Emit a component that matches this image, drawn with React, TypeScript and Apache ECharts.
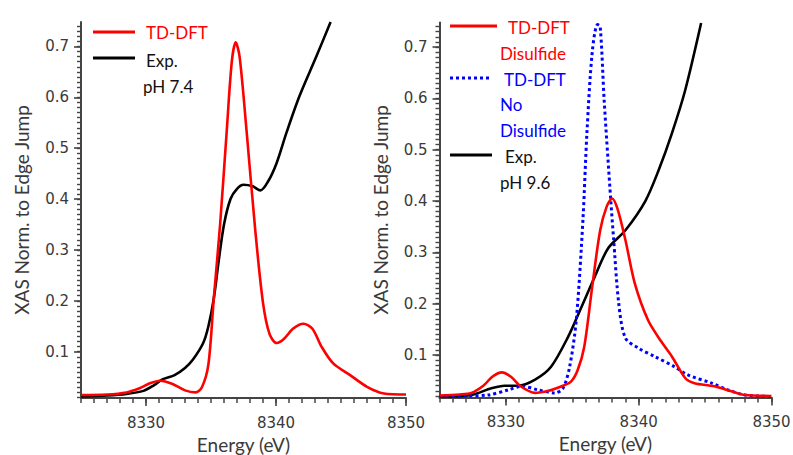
import React, { useEffect, useRef } from "react";
import * as echarts from "echarts";

const xMin = 8325;
const xMax = 8350;
const xTickLabels = [8330, 8340, 8350];
const yTickLabels = [0.1, 0.2, 0.3, 0.4, 0.5, 0.6, 0.7];
const leftYRange = [0.009, 0.748];
const rightYRange = [0.017, 0.748];

const leftTDDFT: number[][] = [
  [8325, 0.015], [8327, 0.016], [8328.5, 0.02], [8329.5, 0.028], [8330.3, 0.038], [8331.1, 0.043],
  [8332, 0.037], [8333, 0.024], [8333.8, 0.02], [8334.3, 0.03], [8334.8, 0.075], [8335.2, 0.2],
  [8335.7, 0.35], [8336.2, 0.53], [8336.6, 0.67], [8336.9, 0.708], [8337.2, 0.68], [8337.75, 0.53],
  [8338.4, 0.34], [8339.0, 0.196], [8339.5, 0.135], [8340.05, 0.117], [8340.6, 0.125], [8341.3, 0.145],
  [8342.1, 0.155], [8342.8, 0.145], [8343.5, 0.11], [8344.4, 0.077], [8345.7, 0.054], [8347, 0.031],
  [8348.3, 0.018], [8350, 0.016],
];

const leftExp74: number[][] = [
  [8325, 0.012], [8327, 0.014], [8328.5, 0.017], [8329.8, 0.023], [8330.6, 0.034], [8331.3, 0.046],
  [8332.2, 0.054], [8333, 0.068], [8333.6, 0.084], [8334.4, 0.117], [8334.8, 0.15], [8335.2, 0.202],
  [8335.6, 0.28], [8336.0, 0.35], [8336.5, 0.40], [8337.0, 0.42], [8337.5, 0.428], [8338.2, 0.425],
  [8338.8, 0.417], [8339.4, 0.435], [8340.05, 0.471], [8340.8, 0.53], [8341.8, 0.602], [8343.1, 0.68],
  [8344.2, 0.748],
];

const rightDisulfide: number[][] = [
  [8325, 0.021], [8326.5, 0.023], [8327.4, 0.026], [8328.3, 0.04], [8329, 0.058], [8329.7, 0.066],
  [8330.4, 0.057], [8331.1, 0.039], [8332.2, 0.026], [8333.2, 0.03], [8334.2, 0.039], [8334.9, 0.048],
  [8335.4, 0.07], [8335.9, 0.116], [8336.5, 0.233], [8337.1, 0.343], [8337.6, 0.39], [8338.0, 0.405],
  [8338.4, 0.385], [8339.0, 0.324], [8339.7, 0.24], [8340.7, 0.168], [8341.7, 0.126], [8342.5, 0.097],
  [8343.5, 0.055], [8344.2, 0.045], [8345.7, 0.039], [8347, 0.029], [8348, 0.022], [8350, 0.02],
];

const rightNoDisulfide: number[][] = [
  [8325, 0.019], [8327, 0.02], [8328.7, 0.022], [8330.2, 0.032], [8331.2, 0.039], [8332.4, 0.032],
  [8333.7, 0.026], [8334.3, 0.035], [8334.8, 0.077], [8335.3, 0.168], [8335.8, 0.363], [8336.1, 0.532],
  [8336.5, 0.69], [8336.9, 0.744], [8337.1, 0.74], [8337.4, 0.596], [8337.9, 0.4], [8338.1, 0.33],
  [8338.5, 0.2], [8339.0, 0.133], [8340.0, 0.113], [8341.2, 0.097], [8342.7, 0.077], [8343.7, 0.061],
  [8345.5, 0.045], [8346.7, 0.032], [8348, 0.022], [8350, 0.019],
];

const rightExp96: number[][] = [
  [8325, 0.019], [8327.4, 0.022], [8328.9, 0.035], [8329.9, 0.04], [8330.9, 0.04], [8332.2, 0.052],
  [8333.4, 0.077], [8334.7, 0.136], [8335.7, 0.194], [8336.7, 0.253], [8337.7, 0.308], [8339.0, 0.343],
  [8340.5, 0.4], [8341.5, 0.46], [8342.5, 0.532], [8343.5, 0.616], [8344.7, 0.747],
];

const FONT = "Lato, 'Noto Sans', sans-serif";
const TICK_FONT = "'DejaVu Sans', sans-serif";
const AXIS_COLOR = "#444";
const TEXT_COLOR = "#3a3a3a";

function range(a: number, b: number, step: number) {
  const out: number[] = [];
  for (let v = a; v <= b + 1e-9; v += step) out.push(Math.round(v * 1000) / 1000);
  return out;
}

export default function App() {
  const ref = useRef<HTMLDivElement>(null);
  useEffect(() => {
    const chart = echarts.init(ref.current!, null, { renderer: "svg" });
    const xMinor = range(xMin, xMax, 1);

    const grids = [
      { left: 81, top: 22, width: 325, height: 376 },
      { left: 439.5, top: 22.5, width: 332, height: 375 },
    ];
    const yRanges = [leftYRange, rightYRange];

    const xAxis: any[] = [];
    const yAxis: any[] = [];
    grids.forEach((_, gi) => {
      const [ymin, ymax] = yRanges[gi];
      xAxis.push({
        type: "value", gridIndex: gi, position: "bottom", min: xMin, max: xMax,
        axisLine: { show: true, onZero: false, lineStyle: { color: AXIS_COLOR, width: 2 } },
        axisTick: { show: true, customValues: xMinor, length: 5, lineStyle: { color: AXIS_COLOR, width: 1.5 } },
        axisLabel: {
          customValues: xTickLabels, fontSize: 15, color: TEXT_COLOR, margin: 17, fontFamily: TICK_FONT,
          formatter: (v: number) => String(v),
        },
        splitLine: { show: false },
        name: "Energy (eV)", nameLocation: "middle", nameGap: 35,
        nameTextStyle: { fontSize: 19, color: TEXT_COLOR, fontFamily: FONT },
      });
      xAxis.push({
        type: "value", gridIndex: gi, position: "bottom", min: xMin, max: xMax,
        axisLine: { show: false, onZero: false },
        axisTick: { show: true, customValues: xTickLabels, length: 8, lineStyle: { color: AXIS_COLOR, width: 1.6 } },
        axisLabel: { show: true, customValues: xTickLabels, formatter: () => "" },
        splitLine: { show: false },
      });
      yAxis.push({
        type: "value", gridIndex: gi, position: "left", min: ymin, max: ymax,
        axisLine: { show: true, onZero: false, lineStyle: { color: AXIS_COLOR, width: 2 } },
        axisTick: {
          show: true, customValues: range(Math.ceil(ymin * 100) / 100, ymax, 0.01), length: 4,
          lineStyle: { color: AXIS_COLOR, width: 1.4 },
        },
        axisLabel: {
          customValues: yTickLabels, fontSize: 15, color: TEXT_COLOR, margin: 12, fontFamily: TICK_FONT,
          formatter: (v: number) => v.toFixed(1),
        },
        splitLine: { show: false },
        name: "XAS Norm. to Edge Jump", nameLocation: "middle", nameGap: 50,
        nameTextStyle: { fontSize: 19, color: TEXT_COLOR, fontFamily: FONT },
      });
      yAxis.push({
        type: "value", gridIndex: gi, position: "left", min: ymin, max: ymax,
        axisLine: { show: false, onZero: false },
        axisTick: { show: true, customValues: yTickLabels, length: 7, lineStyle: { color: AXIS_COLOR, width: 1.6 } },
        axisLabel: { show: true, customValues: yTickLabels, formatter: () => "" },
        splitLine: { show: false },
      });
    });

    const mk = (data: number[][], gi: number, color: string, dotted = false) => ({
      type: "line", xAxisIndex: gi * 2, yAxisIndex: gi * 2, data, showSymbol: false,
      smooth: 0.3, clip: true,
      lineStyle: { color, width: dotted ? 3 : 2.6, type: dotted ? [3, 3] : "solid" },
    });

    const txt = (text: string, x: number, y: number, fill: string) => ({
      type: "text", x, y,
      style: { text, fill, font: `17px ${FONT}`, textVerticalAlign: "middle", verticalAlign: "middle" },
    });
    const ln = (x1: number, x2: number, y: number, stroke: string, dotted = false) => ({
      type: "line", shape: { x1, y1: y, x2, y2: y },
      style: { stroke, lineWidth: 3, lineDash: dotted ? [3, 3] : null },
    });

    chart.setOption({
      animation: false,
      backgroundColor: "#fff",
      grid: grids.map((g) => ({ ...g, containLabel: false, outerBoundsMode: "none" })),
      xAxis, yAxis,
      series: [
        mk(leftExp74, 0, "#000"),
        mk(leftTDDFT, 0, "#ff0000"),
        mk(rightExp96, 1, "#000"),
        mk(rightNoDisulfide, 1, "#0000ff", true),
        mk(rightDisulfide, 1, "#ff0000"),
      ],
      graphic: [
        ln(93, 135, 32, "#ff0000"),
        txt("TD-DFT", 146, 32, "#ff0000"),
        ln(93, 135, 58, "#000"),
        txt("Exp.", 146, 60, "#111"),
        txt("pH 7.4", 143, 86, "#111"),
        ln(450, 497, 26, "#ff0000"),
        txt("TD-DFT", 508, 27, "#ff0000"),
        txt("Disulfide", 500, 53, "#ff0000"),
        ln(450, 492, 78, "#0000ff", true),
        txt("TD-DFT", 504, 79, "#0000ff"),
        txt("No", 500, 104, "#0000ff"),
        txt("Disulfide", 500, 130, "#0000ff"),
        ln(450, 492, 155, "#000"),
        txt("Exp.", 505, 156, "#111"),
        txt("pH 9.6", 500, 182, "#111"),
      ],
    });
    return () => chart.dispose();
  }, []);
  return (
    <div
      ref={ref}
      style={{ position: "fixed", left: 0, top: 0, width: 793, height: 455, background: "#fff" }}
    />
  );
}
